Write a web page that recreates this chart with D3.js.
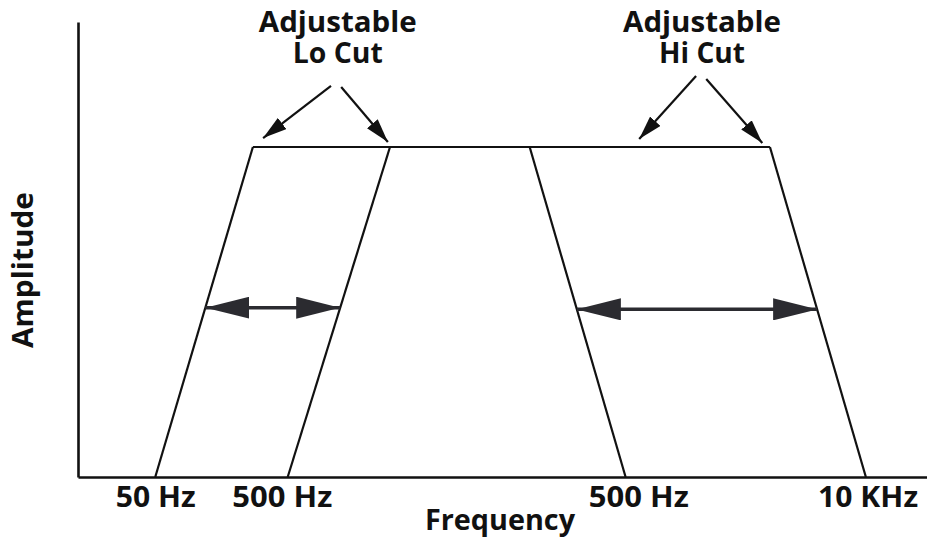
<!DOCTYPE html>
<html>
<head>
<meta charset="utf-8">
<script src="https://cdn.jsdelivr.net/npm/d3@7"></script>
<style>
  body { margin: 0; background: #fff; }
  text { font-family: "Open Sans", Lato, sans-serif; font-weight: 700; fill: #111; }
</style>
</head>
<body>
<svg width="927" height="543"></svg>
<script>
// frequency positions are schematic (0..100 along the axis), amplitude 0..1 = passband
var tickLabels = ["50 Hz", "500 Hz", "500 Hz", "10 KHz"];
var tickPos = [9.1, 24.0, 66.0, 93.0];

// filter slopes: [bottom freq, top freq]
var loSlopes = [[9.1, 20.6], [24.7, 36.75]];
var hiSlopes = [[64.5, 53.2], [92.8, 81.5]];
var passband = [20.6, 81.5];

// adjustment ranges (amplitude level of the double arrows)
var loArrowLevel = 0.513;
var hiArrowLevel = 0.508;

// callouts
var callouts = [
  { lines: ["Adjustable", "Lo Cut"], cx: 30.6, arrows: [[29.8, 1.185, 21.8, 1.027], [31.0, 1.182, 36.5, 1.015]] },
  { lines: ["Adjustable", "Hi Cut"], cx: 73.5, arrows: [[72.8, 1.215, 66.1, 1.024], [74.0, 1.206, 80.6, 1.012]] }
];

var svg = d3.select("svg");

var x = d3.scaleLinear().domain([0, 100]).range([78, 927]);
var y = d3.scaleLinear().domain([0, 1]).range([477, 147]);

var defs = svg.append("defs");
defs.append("marker")
    .attr("id", "head")
    .attr("markerUnits", "userSpaceOnUse")
    .attr("viewBox", "0 0 24 14")
    .attr("refX", 24).attr("refY", 7)
    .attr("markerWidth", 24).attr("markerHeight", 14)
    .attr("orient", "auto")
  .append("path")
    .attr("d", "M0,0 L24,7 L0,14 Z")
    .style("fill", "#111");

defs.append("marker")
    .attr("id", "bighead")
    .attr("markerUnits", "userSpaceOnUse")
    .attr("viewBox", "0 0 44 22")
    .attr("refX", 44).attr("refY", 11)
    .attr("markerWidth", 44).attr("markerHeight", 22)
    .attr("orient", "auto-start-reverse")
  .append("path")
    .attr("d", "M0,0 L44,11 L0,22 Z")
    .style("fill", "#2b2b30");

// axes
var xAxis = svg.append("g")
    .attr("transform", "translate(0," + y(0) + ")")
    .call(d3.axisBottom(x).tickValues(tickPos).tickSize(0)
        .tickFormat(function(d, i) { return tickLabels[i]; }));
xAxis.select(".domain").style("stroke", "#111").style("stroke-width", 2.6);
xAxis.selectAll(".tick text")
    .attr("y", 30)
    .attr("dy", 0)
    .style("font-size", "29px")
    .attr("textLength", function(d, i) { return tickLabels[i] == "50 Hz" ? 80 : 100; })
    .attr("lengthAdjust", "spacingAndGlyphs");
xAxis.attr("font-family", null).attr("font-size", null);

var yAxis = svg.append("g")
    .attr("transform", "translate(" + x(0) + ",0)")
    .call(d3.axisLeft(d3.scaleLinear().domain([0, 1.38]).range([477, 22])).tickValues([]).tickSize(0));
yAxis.select(".domain").style("stroke", "#111").style("stroke-width", 2.6);

svg.append("text")
    .attr("x", 500).attr("y", 530)
    .attr("text-anchor", "middle")
    .style("font-size", "29px")
    .attr("textLength", 150).attr("lengthAdjust", "spacingAndGlyphs")
    .text("Frequency");

svg.append("text")
    .attr("transform", "translate(33,270) rotate(-90)")
    .attr("text-anchor", "middle")
    .style("font-size", "29px")
    .attr("textLength", 156).attr("lengthAdjust", "spacingAndGlyphs")
    .text("Amplitude");

// filter shape
var line = d3.line()
    .x(function(d) { return x(d[0]); })
    .y(function(d) { return y(d[1]); });

var g = svg.append("g").attr("id", "container");

g.append("path")
    .datum([[passband[0], 1], [passband[1], 1]])
    .attr("d", line)
    .style("fill", "none").style("stroke", "#111").style("stroke-width", 2.2);

g.selectAll("path.slope")
    .data(loSlopes.concat(hiSlopes))
    .enter()
    .append("path")
    .attr("class", "slope")
    .attr("d", function(d) { return line([[d[0], 0], [d[1], 1]]); })
    .style("fill", "none").style("stroke", "#111").style("stroke-width", 2.2);

// double arrows between slopes
function at(s, a) { return s[0] + (s[1] - s[0]) * a; }
var ranges = [
  [at(loSlopes[0], loArrowLevel), at(loSlopes[1], loArrowLevel), loArrowLevel],
  [at(hiSlopes[0], hiArrowLevel), at(hiSlopes[1], hiArrowLevel), hiArrowLevel]
];
g.selectAll("line.range")
    .data(ranges)
    .enter()
    .append("line")
    .attr("class", "range")
    .attr("x1", function(d) { return x(d[0]); })
    .attr("x2", function(d) { return x(d[1]); })
    .attr("y1", function(d) { return y(d[2]); })
    .attr("y2", function(d) { return y(d[2]); })
    .style("stroke", "#2b2b30").style("stroke-width", 3.5)
    .attr("marker-start", "url(#bighead)")
    .attr("marker-end", "url(#bighead)");

// callouts
var c = svg.selectAll("g.callout")
    .data(callouts)
    .enter()
    .append("g")
    .attr("class", "callout");

c.selectAll("text")
    .data(function(d) { return d.lines.map(function(t, i) { return { t: t, i: i, cx: d.cx }; }); })
    .enter()
    .append("text")
    .attr("x", function(d) { return x(d.cx); })
    .attr("y", function(d) { return 32 + d.i * 31; })
    .attr("text-anchor", "middle")
    .style("font-size", "29px")
    .attr("textLength", function(d) { return d.t == "Adjustable" ? 158 : (d.t == "Lo Cut" ? 90 : 86); })
    .attr("lengthAdjust", "spacingAndGlyphs")
    .text(function(d) { return d.t; });

c.selectAll("line")
    .data(function(d) { return d.arrows; })
    .enter()
    .append("line")
    .attr("x1", function(d) { return x(d[0]); })
    .attr("y1", function(d) { return y(d[1]); })
    .attr("x2", function(d) { return x(d[2]); })
    .attr("y2", function(d) { return y(d[3]); })
    .style("stroke", "#111").style("stroke-width", 2.2)
    .attr("marker-end", "url(#head)");
</script>
</body>
</html>
